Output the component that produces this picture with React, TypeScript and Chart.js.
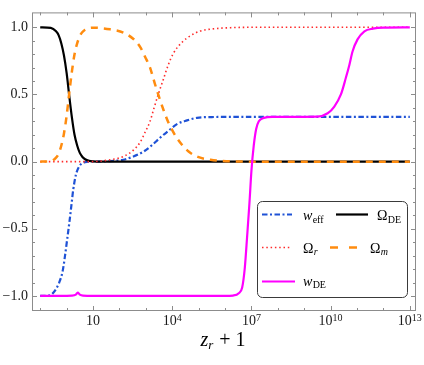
import React, { useEffect, useRef } from "react";
import { Chart, registerables } from "chart.js";

Chart.register(...registerables);

const SERIF = "'Liberation Serif', 'DejaVu Serif', serif";

// x values are log10(z_r + 1)
const X_MIN = -1.311;
const X_MAX = 13.234;
const Y_MIN = -1.112;
const Y_MAX = 1.111;

const xTickLogs = [-1, 0, 1, 2, 3, 4, 5, 6, 7, 8, 9, 10, 11, 12, 13];
const xLabelLogs = [1, 4, 7, 10, 13];
const yMinorTicks = [-1.0, -0.9, -0.8, -0.7, -0.6, -0.5, -0.4, -0.3, -0.2, -0.1, 0, 0.1, 0.2, 0.3, 0.4, 0.5, 0.6, 0.7, 0.8, 0.9, 1.0];
const yLabelValues = [-1, -0.5, 0, 0.5, 1];
const yLabelTexts = ["\u22121.0", "\u22120.5", "0.0", "0.5", "1.0"];

// w_eff (blue dash-dot)
const wEffX = [-1, -0.63, -0.44, -0.28, -0.15, -0.06, 0.02, 0.1, 0.19, 0.25, 0.35, 0.48, 0.7, 1.0, 1.5, 2.15, 2.53, 2.91, 3.23, 3.54, 3.86, 4.18, 4.56, 4.94, 5.5, 6.5, 13];
const wEffY = [-1.0, -0.995, -0.96, -0.9, -0.815, -0.7, -0.58, -0.46, -0.31, -0.21, -0.1, -0.035, -0.004, 0.0, 0.003, 0.014, 0.038, 0.074, 0.122, 0.178, 0.23, 0.279, 0.307, 0.326, 0.332, 0.333, 0.333];

// Omega_DE (black solid)
const omDeX = [-1, -0.6, -0.4, -0.3, -0.2, -0.1, 0, 0.1, 0.2, 0.3, 0.4, 0.5, 0.6, 0.7, 0.85, 1.0, 1.3, 13];
const omDeY = [1.0, 0.996, 0.97, 0.94, 0.88, 0.79, 0.66, 0.49, 0.33, 0.2, 0.12, 0.065, 0.035, 0.018, 0.006, 0.002, 0, 0];

// Omega_r (red dotted)
const omRX = [-1, 0.9, 1.65, 2.15, 2.53, 2.79, 2.97, 3.16, 3.29, 3.47, 3.66, 3.85, 4.04, 4.38, 4.68, 5.06, 5.52, 6.2, 7, 13];
const omRY = [0, 0, 0.014, 0.038, 0.086, 0.146, 0.218, 0.3, 0.385, 0.5, 0.61, 0.72, 0.805, 0.89, 0.936, 0.972, 0.988, 0.997, 1.0, 1.0];

// Omega_m (orange dashed)
const omMX = [-1, -0.6, -0.4, -0.3, -0.2, -0.1, 0, 0.1, 0.2, 0.3, 0.4, 0.5, 0.6, 0.7, 0.85, 1.0, 1.65, 2.15, 2.53, 2.79, 2.97, 3.16, 3.29, 3.47, 3.66, 3.86, 4.18, 4.62, 5.0, 5.45, 5.75, 6.5, 7, 13];
const omMY = [0, 0.004, 0.03, 0.06, 0.12, 0.21, 0.34, 0.51, 0.67, 0.8, 0.88, 0.935, 0.965, 0.982, 0.994, 0.997, 0.985, 0.961, 0.913, 0.853, 0.781, 0.7, 0.615, 0.5, 0.39, 0.29, 0.175, 0.075, 0.033, 0.014, 0.007, 0.001, 0, 0];

// w_DE (magenta solid)
const wDeX = [-1, 0.2, 0.35, 0.42, 0.5, 0.62, 1.0, 6.0, 6.3, 6.52, 6.65, 6.75, 6.84, 6.925, 7.0, 7.09, 7.18, 7.28, 7.47, 7.8, 9.5, 9.89, 10.14, 10.39, 10.58, 10.71, 10.83, 11.02, 11.28, 11.6, 12.0, 13];
const wDeY = [-1, -0.997, -0.99, -0.975, -0.99, -0.998, -1, -1, -0.997, -0.98, -0.937, -0.79, -0.55, -0.31, -0.07, 0.122, 0.243, 0.3, 0.326, 0.333, 0.335, 0.36, 0.41, 0.5, 0.626, 0.72, 0.82, 0.91, 0.97, 0.99, 0.998, 1.0];

const BLUE = "#1f52d6";
const BLACK = "#000000";
const RED = "#ff2a2a";
const ORANGE = "#ff8c0f";
const MAGENTA = "#ff00ff";

const DASH_BLUE = [5.5, 2.5, 2, 2.5];
const DASH_RED = [1.5, 2.8];
const DASH_ORANGE = [7, 6];

const pts = (xs: number[], ys: number[]) => xs.map((x, i) => ({ x, y: ys[i] }));

function drawSubLabel(ctx: CanvasRenderingContext2D, x: number, base: number, main: string, mainItalic: boolean, sub: string, subItalic: boolean) {
  ctx.font = `${mainItalic ? "italic " : ""}14px ${SERIF}`;
  ctx.fillText(main, x, base);
  const w = ctx.measureText(main).width;
  ctx.font = `${subItalic ? "italic " : ""}10px ${SERIF}`;
  ctx.fillText(sub, x + w + 0.3, base + 2.5);
}

function sample(ctx: CanvasRenderingContext2D, x0: number, x1: number, y: number, color: string, width: number, dash: number[]) {
  ctx.save();
  ctx.strokeStyle = color;
  ctx.lineWidth = width;
  ctx.setLineDash(dash);
  ctx.lineCap = "butt";
  ctx.beginPath();
  ctx.moveTo(x0, y);
  ctx.lineTo(x1, y);
  ctx.stroke();
  ctx.restore();
}

const framePlugin = {
  id: "mmaFrame",
  beforeDatasetsDraw(chart: any) {
    const { ctx, chartArea: a, scales } = chart;
    const xs = scales.x;
    const ys = scales.y;
    ctx.save();
    ctx.strokeStyle = "#8c8c8c";
    ctx.lineWidth = 1;
    ctx.strokeRect(a.left + 0.5, a.top + 0.5, a.right - a.left - 1, a.bottom - a.top - 1);
    ctx.beginPath();
    for (const v of xTickLogs) {
      const px = Math.round(xs.getPixelForValue(v)) + 0.5;
      const len = xLabelLogs.includes(v) ? 5 : 3;
      ctx.moveTo(px, a.bottom);
      ctx.lineTo(px, a.bottom - len);
      ctx.moveTo(px, a.top);
      ctx.lineTo(px, a.top + len);
    }
    for (const v of yMinorTicks) {
      const py = Math.round(ys.getPixelForValue(v)) + 0.5;
      const major = yLabelValues.some((m) => Math.abs(m - v) < 1e-6);
      const len = major ? 5 : 3;
      ctx.moveTo(a.left, py);
      ctx.lineTo(a.left + len, py);
      ctx.moveTo(a.right, py);
      ctx.lineTo(a.right - len, py);
    }
    ctx.stroke();
    ctx.restore();
  },
  afterDraw(chart: any) {
    const { ctx, chartArea: a, scales } = chart;
    const xs = scales.x;
    ctx.save();
    ctx.fillStyle = "#1a1a1a";
    ctx.textBaseline = "alphabetic";
    ctx.textAlign = "left";
    // x tick labels
    for (const v of xLabelLogs) {
      const px = xs.getPixelForValue(v);
      ctx.font = `14px ${SERIF}`;
      const bw = ctx.measureText("10").width;
      const exp = v === 1 ? "" : String(v);
      ctx.font = `10px ${SERIF}`;
      const ew = exp ? ctx.measureText(exp).width : 0;
      const start = px - (bw + ew) / 2;
      ctx.font = `14px ${SERIF}`;
      ctx.fillText("10", start, 325);
      if (exp) {
        ctx.font = `10px ${SERIF}`;
        ctx.fillText(exp, start + bw, 320.5);
      }
    }
    // x axis title: z_r + 1
    ctx.fillStyle = "#000";
    ctx.font = `italic 20px ${SERIF}`;
    const zw = ctx.measureText("z").width;
    ctx.font = `italic 13px ${SERIF}`;
    const rw = ctx.measureText("r").width;
    ctx.font = `20px ${SERIF}`;
    const pw = ctx.measureText(" + 1").width;
    const total = zw + rw + 1 + pw;
    let tx = (a.left + a.right) / 2 - total / 2 - 1;
    ctx.font = `italic 20px ${SERIF}`;
    ctx.fillText("z", tx, 346);
    tx += zw;
    ctx.font = `italic 13px ${SERIF}`;
    ctx.fillText("r", tx, 348.5);
    tx += rw + 1;
    ctx.font = `20px ${SERIF}`;
    ctx.fillText(" + 1", tx, 346);

    // legend
    ctx.beginPath();
    ctx.roundRect(257.5, 201.5, 150, 96, 5);
    ctx.fillStyle = "#ffffff";
    ctx.fill();
    ctx.strokeStyle = "#3a3a3a";
    ctx.lineWidth = 1;
    ctx.stroke();

    sample(ctx, 262, 292, 214.5, BLUE, 2, DASH_BLUE);
    sample(ctx, 336, 368, 214.5, BLACK, 2.2, []);
    sample(ctx, 262, 292, 247.5, RED, 1.6, DASH_RED);
    sample(ctx, 330, 359, 247.5, ORANGE, 2.4, [8, 11]);
    sample(ctx, 262, 295, 281.5, MAGENTA, 2, []);

    ctx.fillStyle = "#000";
    drawSubLabel(ctx, 303, 220, "w", true, "eff", false);
    drawSubLabel(ctx, 377, 220, "\u03A9", false, "DE", false);
    drawSubLabel(ctx, 303, 252.5, "\u03A9", false, "r", true);
    drawSubLabel(ctx, 370, 252.5, "\u03A9", false, "m", true);
    drawSubLabel(ctx, 303, 285.5, "w", true, "DE", false);
    ctx.restore();
  },
};

export default function App() {
  const ref = useRef<HTMLCanvasElement>(null);

  useEffect(() => {
    const canvas = ref.current;
    if (!canvas) return;
    const common = {
      pointRadius: 0,
      pointHoverRadius: 0,
      fill: false,
      cubicInterpolationMode: "monotone" as const,
      borderCapStyle: "butt" as const,
      borderJoinStyle: "round" as const,
    };
    const chart = new Chart(canvas, {
      type: "line",
      data: {
        datasets: [
          { ...common, label: "w_eff", data: pts(wEffX, wEffY), borderColor: BLUE, borderWidth: 2.2, borderDash: DASH_BLUE, order: 4 },
          { ...common, label: "Omega_DE", data: pts(omDeX, omDeY), borderColor: BLACK, borderWidth: 2.2, order: 3 },
          { ...common, label: "Omega_r", data: pts(omRX, omRY), borderColor: RED, borderWidth: 1.6, borderDash: DASH_RED, order: 2 },
          { ...common, label: "Omega_m", data: pts(omMX, omMY), borderColor: ORANGE, borderWidth: 2.5, borderDash: DASH_ORANGE, order: 1 },
          { ...common, label: "w_DE", data: pts(wDeX, wDeY), borderColor: MAGENTA, borderWidth: 2.2, order: 0 },
        ],
      },
      options: {
        animation: false,
        responsive: false,
        devicePixelRatio: 1,
        layout: { padding: { top: 3, right: 8, left: 0, bottom: 0 } },
        plugins: { legend: { display: false }, tooltip: { enabled: false } },
        events: [],
        scales: {
          x: {
            type: "linear",
            min: X_MIN,
            max: X_MAX,
            grid: { display: false, drawTicks: false },
            border: { display: false },
            ticks: { display: false },
            afterFit: (s: any) => {
              s.height = 54;
            },
          },
          y: {
            type: "linear",
            min: Y_MIN,
            max: Y_MAX,
            grid: { display: false, drawTicks: false },
            border: { display: false },
            afterBuildTicks: (s: any) => {
              s.ticks = yLabelValues.map((v) => ({ value: v }));
            },
            ticks: {
              padding: 4,
              color: "#1a1a1a",
              font: { family: SERIF, size: 14 },
              callback: (value: any) => {
                const i = yLabelValues.findIndex((v) => Math.abs(v - Number(value)) < 1e-6);
                return i >= 0 ? yLabelTexts[i] : "";
              },
            },
            afterFit: (s: any) => {
              s.width = 32;
            },
          },
        },
      },
      plugins: [framePlugin],
    } as any);
    return () => chart.destroy();
  }, []);

  return (
    <div style={{ position: "fixed", left: 0, top: 0, width: 424, height: 365, background: "#fff" }}>
      <canvas ref={ref} width={424} height={365} style={{ display: "block" }} />
    </div>
  );
}
